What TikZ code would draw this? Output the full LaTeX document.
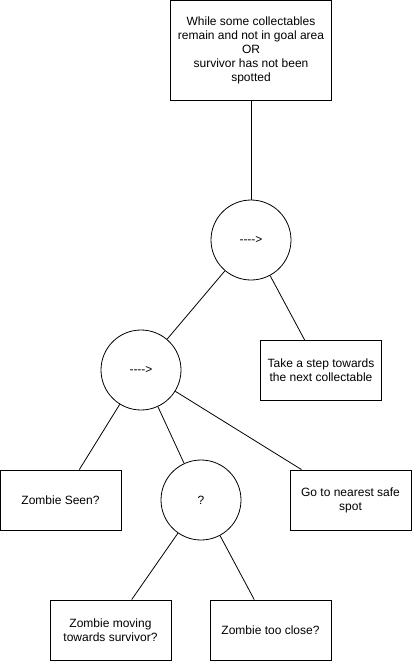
\documentclass[tikz,border=0pt]{standalone}
\usepackage{fontspec}
\setmainfont{Liberation Sans}
\usetikzlibrary{positioning}

\begin{document}
\begin{tikzpicture}[x=1pt, y=-1pt, line width=0.8pt,
    every node/.style={font=\fontsize{12}{14}\selectfont, align=center},
    task/.style={draw, minimum width=121pt, minimum height=60pt, inner sep=2pt},
    control/.style={draw, circle, minimum size=80pt, inner sep=0pt}]
    \useasboundingbox (0,0) rectangle (412,664);

    % root
    \node[task, minimum width=161pt, minimum height=100pt] (loop) at (251,50)
        {While some collectables\\remain and not in goal area\\OR\\survivor has not been\\spotted};

    % sequences and selector
    \node[control] (seqtop) at (251,240) {-{}-{}-{}->};
    \node[control] (seqzom) at (141,370) {-{}-{}-{}->};
    \node[control] (sel) at (201,500) {?};

    % leaves
    \node[task] (step) at (321,370.5) {Take a step towards\\the next collectable};
    \node[task] (seen) at (60.5,500) {Zombie Seen?};
    \node[task] (safe) at (350.5,500) {Go to nearest safe\\spot};
    \node[task] (moving) at (110.5,630) {Zombie moving\\towards survivor?};
    \node[task] (close) at (270.5,630) {Zombie too close?};

    \draw (loop) -- (seqtop);
    \draw (seqtop) -- (seqzom);
    \draw (seqtop) -- (step);
    \draw (seqzom) -- (seen);
    \draw (seqzom) -- (sel);
    \draw (seqzom) -- (safe);
    \draw (sel) -- (moving);
    \draw (sel) -- (close);
\end{tikzpicture}
\end{document}
